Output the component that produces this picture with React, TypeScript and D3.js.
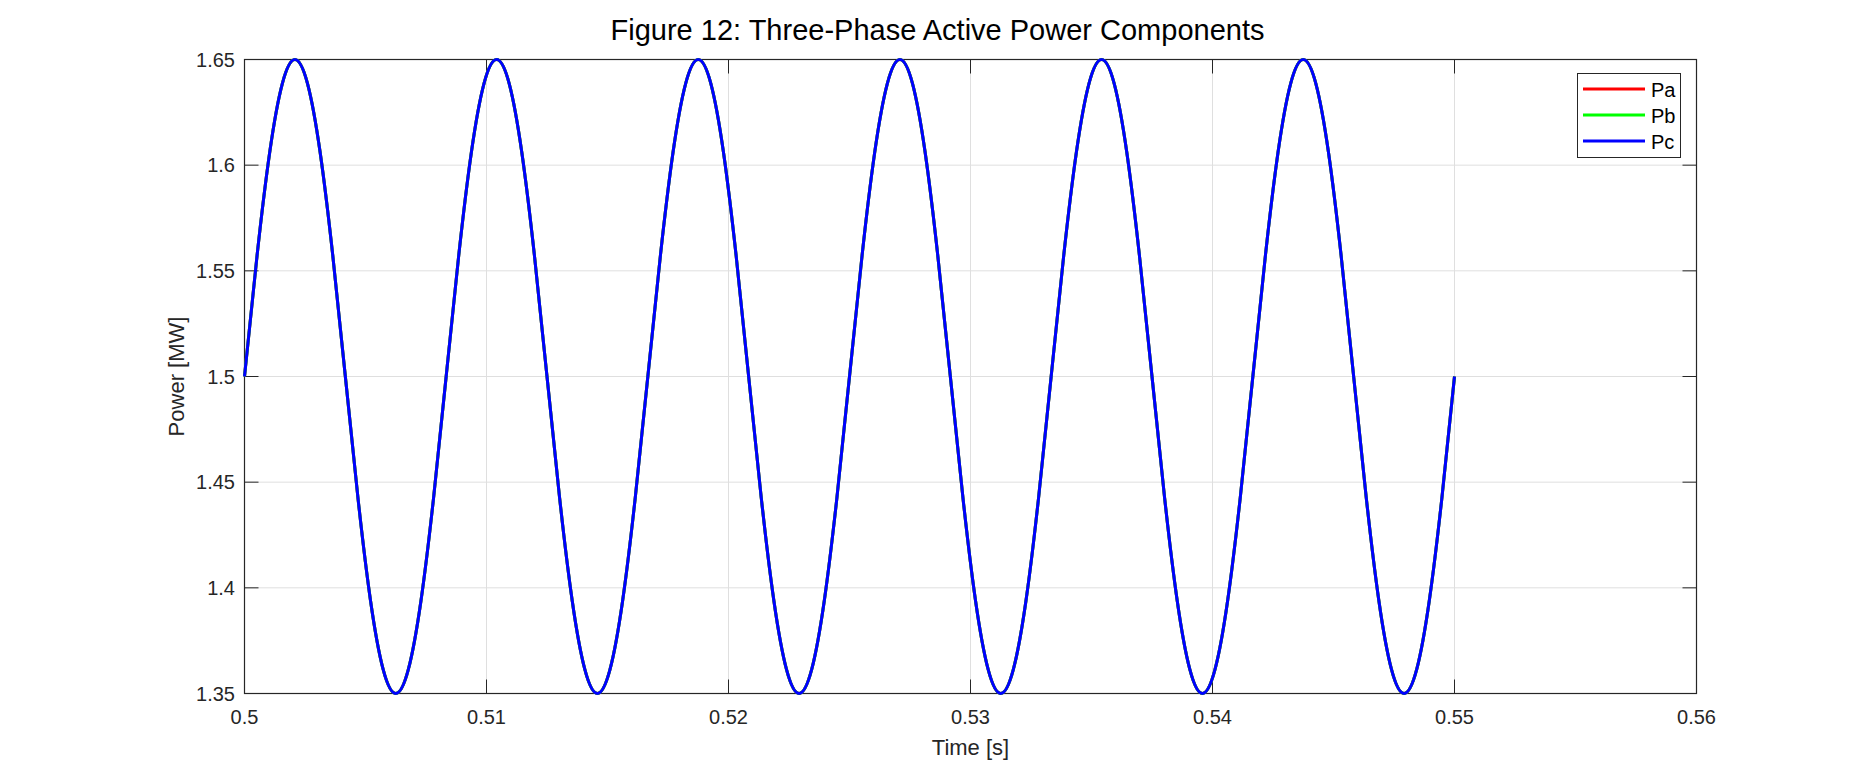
import React from "react";
import * as d3 from "d3";

// Time samples [s] (16 per 1/120 s cycle)
const time = [
  0.500000, 0.500521, 0.501042, 0.501563, 0.502083, 0.502604, 0.503125, 0.503646,
  0.504167, 0.504688, 0.505208, 0.505729, 0.506250, 0.506771, 0.507292, 0.507813,
  0.508333, 0.508854, 0.509375, 0.509896, 0.510417, 0.510938, 0.511458, 0.511979,
  0.512500, 0.513021, 0.513542, 0.514063, 0.514583, 0.515104, 0.515625, 0.516146,
  0.516667, 0.517188, 0.517708, 0.518229, 0.518750, 0.519271, 0.519792, 0.520313,
  0.520833, 0.521354, 0.521875, 0.522396, 0.522917, 0.523438, 0.523958, 0.524479,
  0.525000, 0.525521, 0.526042, 0.526563, 0.527083, 0.527604, 0.528125, 0.528646,
  0.529167, 0.529688, 0.530208, 0.530729, 0.531250, 0.531771, 0.532292, 0.532813,
  0.533333, 0.533854, 0.534375, 0.534896, 0.535417, 0.535938, 0.536458, 0.536979,
  0.537500, 0.538021, 0.538542, 0.539063, 0.539583, 0.540104, 0.540625, 0.541146,
  0.541667, 0.542188, 0.542708, 0.543229, 0.543750, 0.544271, 0.544792, 0.545313,
  0.545833, 0.546354, 0.546875, 0.547396, 0.547917, 0.548438, 0.548958, 0.549479,
  0.550000,
];

// Phase A active power [MW]
const pa = [
  1.5, 1.5574, 1.6061, 1.6386, 1.65, 1.6386, 1.6061, 1.5574,
  1.5, 1.4426, 1.3939, 1.3614, 1.35, 1.3614, 1.3939, 1.4426,
  1.5, 1.5574, 1.6061, 1.6386, 1.65, 1.6386, 1.6061, 1.5574,
  1.5, 1.4426, 1.3939, 1.3614, 1.35, 1.3614, 1.3939, 1.4426,
  1.5, 1.5574, 1.6061, 1.6386, 1.65, 1.6386, 1.6061, 1.5574,
  1.5, 1.4426, 1.3939, 1.3614, 1.35, 1.3614, 1.3939, 1.4426,
  1.5, 1.5574, 1.6061, 1.6386, 1.65, 1.6386, 1.6061, 1.5574,
  1.5, 1.4426, 1.3939, 1.3614, 1.35, 1.3614, 1.3939, 1.4426,
  1.5, 1.5574, 1.6061, 1.6386, 1.65, 1.6386, 1.6061, 1.5574,
  1.5, 1.4426, 1.3939, 1.3614, 1.35, 1.3614, 1.3939, 1.4426,
  1.5, 1.5574, 1.6061, 1.6386, 1.65, 1.6386, 1.6061, 1.5574,
  1.5, 1.4426, 1.3939, 1.3614, 1.35, 1.3614, 1.3939, 1.4426,
  1.5,
];
// Phases B and C coincide exactly with phase A in the reference
const pb = [...pa];
const pc = [...pa];

const seriesNames = ["Pa", "Pb", "Pc"];
const seriesColors = ["#ff0000", "#00ff00", "#0000ff"];
const seriesValues = [pa, pb, pc];

const xTicks = [0.5, 0.51, 0.52, 0.53, 0.54, 0.55, 0.56];
const xTickLabels = ["0.5", "0.51", "0.52", "0.53", "0.54", "0.55", "0.56"];
const yTicks = [1.35, 1.4, 1.45, 1.5, 1.55, 1.6, 1.65];
const yTickLabels = ["1.35", "1.4", "1.45", "1.5", "1.55", "1.6", "1.65"];

const titleText = "Figure 12: Three-Phase Active Power Components";
const xLabel = "Time [s]";
const yLabel = "Power [MW]";

const W = 1875;
const H = 781;
const L = 244.5;
const R = 1696.5;
const T = 59.5;
const B = 693.5;
const FONT = "'Liberation Sans', Arial, Helvetica, sans-serif";
const AX = "#262626";
const GRID = "#dfdfdf";
const TICK = 14;

export default function App() {
  const x = d3.scaleLinear().domain([0.5, 0.56]).range([L, R]);
  const y = d3.scaleLinear().domain([1.35, 1.65]).range([B, T]);

  const line = d3
    .line<number>()
    .x((_, i) => x(time[i]))
    .y((v) => y(v))
    .curve(d3.curveNatural);

  const legX = 1577.5;
  const legY = 73.5;
  const legW = 103;
  const legH = 84;
  const rowY = [89, 115, 141];

  return (
    <svg
      width={W}
      height={H}
      viewBox={`0 0 ${W} ${H}`}
      style={{ position: "absolute", left: 0, top: 0, display: "block", background: "#fff" }}
      fontFamily={FONT}
    >
      <rect x={0} y={0} width={W} height={H} fill="#fff" />
      {/* grid */}
      {xTicks.slice(1, -1).map((t) => (
        <line key={"gx" + t} x1={x(t)} x2={x(t)} y1={T} y2={B} stroke={GRID} strokeWidth={1} />
      ))}
      {yTicks.slice(1, -1).map((t) => (
        <line key={"gy" + t} x1={L} x2={R} y1={y(t)} y2={y(t)} stroke={GRID} strokeWidth={1} />
      ))}
      {/* ticks */}
      {xTicks.map((t) => (
        <g key={"tx" + t}>
          <line x1={x(t)} x2={x(t)} y1={B} y2={B - TICK} stroke={AX} strokeWidth={1} />
          <line x1={x(t)} x2={x(t)} y1={T} y2={T + TICK} stroke={AX} strokeWidth={1} />
        </g>
      ))}
      {yTicks.map((t) => (
        <g key={"ty" + t}>
          <line x1={L} x2={L + TICK} y1={y(t)} y2={y(t)} stroke={AX} strokeWidth={1} />
          <line x1={R} x2={R - TICK} y1={y(t)} y2={y(t)} stroke={AX} strokeWidth={1} />
        </g>
      ))}
      {/* box */}
      <rect x={L} y={T} width={R - L} height={B - T} fill="none" stroke={AX} strokeWidth={1.2} />
      {/* data */}
      {seriesValues.map((vals, i) => (
        <path
          key={seriesNames[i]}
          d={line(vals) || ""}
          fill="none"
          stroke={seriesColors[i]}
          strokeWidth={3}
          strokeLinejoin="round"
        />
      ))}
      {/* tick labels */}
      {xTicks.map((t, i) => (
        <text key={"lx" + t} x={x(t)} y={724} textAnchor="middle" fontSize={20} fill={AX}>
          {xTickLabels[i]}
        </text>
      ))}
      {yTicks.map((t, i) => (
        <text key={"ly" + t} x={235} y={y(t) + 7} textAnchor="end" fontSize={20} fill={AX}>
          {yTickLabels[i]}
        </text>
      ))}
      {/* axis labels */}
      <text x={(L + R) / 2} y={755} textAnchor="middle" fontSize={22} fill={AX}>
        {xLabel}
      </text>
      <text
        transform={`translate(184, ${(T + B) / 2}) rotate(-90)`}
        textAnchor="middle"
        fontSize={22}
        fill={AX}
      >
        {yLabel}
      </text>
      {/* title */}
      <text x={W / 2} y={40} textAnchor="middle" fontSize={29} fill="#000">
        {titleText}
      </text>
      {/* legend */}
      <rect x={legX} y={legY} width={legW} height={legH} fill="#fff" stroke={AX} strokeWidth={1} />
      {seriesNames.map((n, i) => (
        <g key={"leg" + n}>
          <line x1={1583} x2={1645} y1={rowY[i]} y2={rowY[i]} stroke={seriesColors[i]} strokeWidth={3} />
          <text x={1651} y={rowY[i] + 7.5} fontSize={20} fill="#000">
            {n}
          </text>
        </g>
      ))}
    </svg>
  );
}
